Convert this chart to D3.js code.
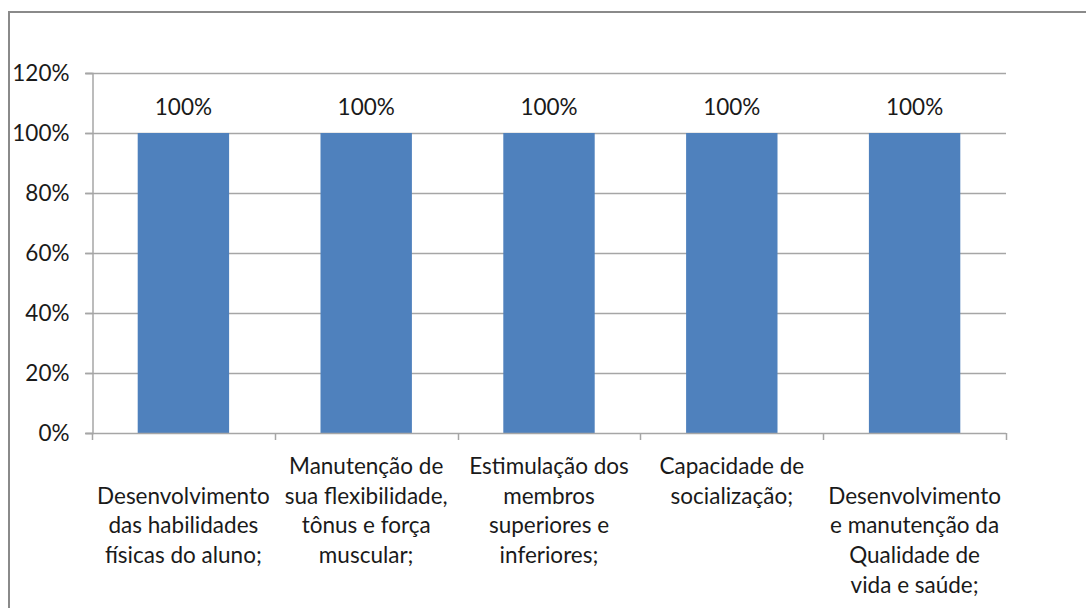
<!DOCTYPE html>
<html>
<head>
<meta charset="utf-8">
<script src="https://cdn.jsdelivr.net/npm/d3@7"></script>
<style>
  html, body { margin: 0; padding: 0; background: #fff; }
  svg { display: block; }
  text { font-family: Lato, "Open Sans", sans-serif; fill: #1a1a1a; }
</style>
</head>
<body>
<svg id="chart" width="1086" height="608"></svg>
<script>
// Categories (each label already split into its wrapped lines)
const categories = [
  ["Desenvolvimento", "das habilidades", "físicas do aluno;"],
  ["Manutenção de", "sua flexibilidade,", "tônus e força", "muscular;"],
  ["Estimulação dos", "membros", "superiores e", "inferiores;"],
  ["Capacidade de", "socialização;"],
  ["Desenvolvimento", "e manutenção da", "Qualidade de", "vida e saúde;"]
];
const values = [1.0, 1.0, 1.0, 1.0, 1.0];
const yTicks = [0, 0.2, 0.4, 0.6, 0.8, 1.0, 1.2];

const W = 1086, H = 608;
const plot = { left: 92, right: 1006, top: 73, bottom: 433 };
const fontSize = 22.5;
const svg = d3.select("#chart");

// Outer chart frame (runs off the right and bottom edges)
svg.append("rect")
  .attr("x", 9).attr("y", 12)
  .attr("width", W + 20).attr("height", H + 20)
  .attr("fill", "none").attr("stroke", "#8a8a8a").attr("stroke-width", 2);

const x = d3.scaleBand()
  .domain(d3.range(categories.length))
  .range([plot.left, plot.right])
  .paddingInner(0.5).paddingOuter(0.25);

const y = d3.scaleLinear().domain([0, 1.2]).range([plot.bottom, plot.top]);
const pct = d3.format(".0%");
const gridColor = "#a6a6a6";

// Horizontal gridlines with left tick stubs
svg.append("g").selectAll("line").data(yTicks.slice(1)).join("line")
  .attr("x1", plot.left - 7).attr("x2", plot.right)
  .attr("y1", d => Math.round(y(d)) + 0.5).attr("y2", d => Math.round(y(d)) + 0.5)
  .attr("stroke", gridColor).attr("stroke-width", 1.5);

// Y axis
const yAxis = svg.append("g")
  .attr("transform", `translate(${plot.left + 0.5},0)`)
  .call(d3.axisLeft(y).tickValues(yTicks).tickFormat(pct).tickSize(7).tickPadding(16));
yAxis.select(".domain").attr("stroke", gridColor).attr("stroke-width", 1.5);
yAxis.selectAll(".tick line").attr("stroke", gridColor).attr("stroke-width", 1.5);
yAxis.selectAll(".tick text")
  .attr("font-size", fontSize).attr("fill", "#1a1a1a")
  .style("font-family", "Lato, 'Open Sans', sans-serif");

// Bars
svg.append("g").selectAll("rect").data(values).join("rect")
  .attr("x", (d, i) => x(i))
  .attr("y", d => y(d))
  .attr("width", x.bandwidth())
  .attr("height", d => y(0) - y(d))
  .attr("fill", "#4f81bd");

// Value labels
svg.append("g").selectAll("text").data(values).join("text")
  .attr("x", (d, i) => x(i) + x.bandwidth() / 2)
  .attr("y", d => y(d) - 18)
  .attr("text-anchor", "middle")
  .attr("font-size", fontSize)
  .text(d => pct(d));

// X axis baseline and category boundary ticks
const step = x.step();
const bounds = d3.range(categories.length + 1).map(i => plot.left + i * step);
svg.append("line")
  .attr("x1", plot.left - 7).attr("x2", plot.right)
  .attr("y1", plot.bottom + 0.5).attr("y2", plot.bottom + 0.5)
  .attr("stroke", gridColor).attr("stroke-width", 1.5);
svg.append("g").selectAll("line").data(bounds).join("line")
  .attr("x1", d => Math.round(d) + 0.5).attr("x2", d => Math.round(d) + 0.5)
  .attr("y1", plot.bottom).attr("y2", plot.bottom + 7)
  .attr("stroke", gridColor).attr("stroke-width", 1.5);

// Category labels; some start one row lower, as the wrapped text is laid out
const rowStart = [1, 0, 0, 0, 1];
const lineH = 29.7;
const firstRow = 466;
const lab = svg.append("g").selectAll("text").data(categories).join("text")
  .attr("text-anchor", "middle")
  .attr("font-size", fontSize);
lab.each(function (lines, i) {
  const cx = x(i) + x.bandwidth() / 2;
  d3.select(this).selectAll("tspan").data(lines).join("tspan")
    .attr("x", cx)
    .attr("y", (d, k) => firstRow + (rowStart[i] + k) * lineH)
    .attr("dy", "0.35em")
    .text(d => d);
});
</script>
</body>
</html>
